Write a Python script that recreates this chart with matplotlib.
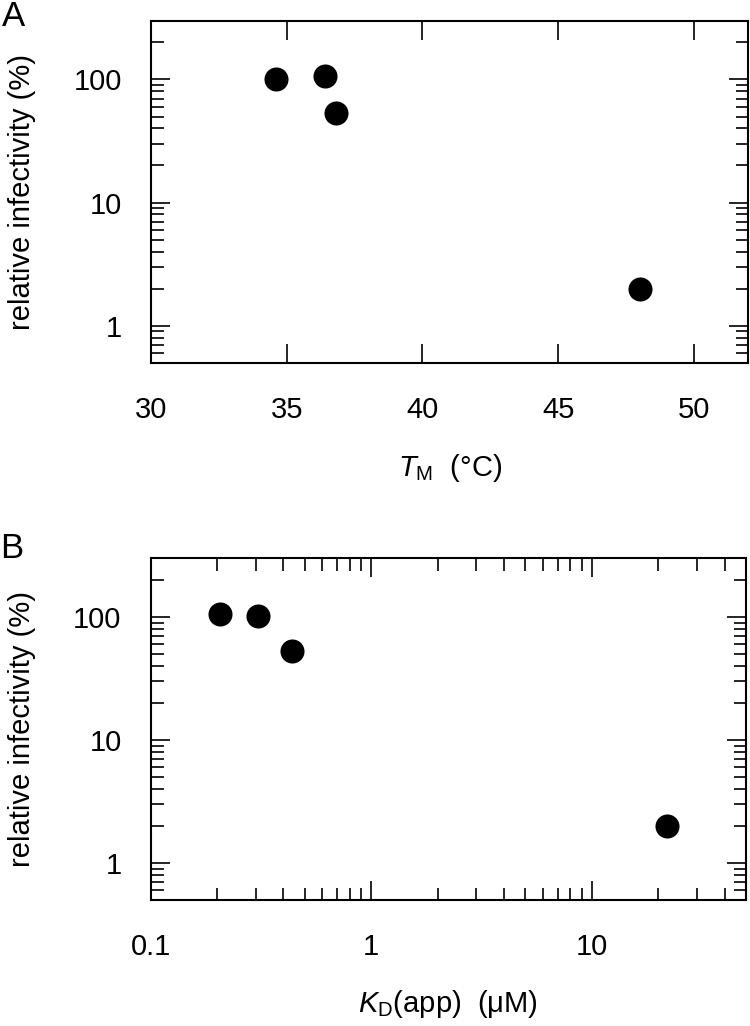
import matplotlib
matplotlib.use('Agg')
import matplotlib.pyplot as plt
from matplotlib.ticker import LogLocator, FixedLocator, NullFormatter, FuncFormatter

plt.rcParams['font.family'] = ['Liberation Sans', 'DejaVu Sans']
plt.rcParams['mathtext.fontset'] = 'custom'
plt.rcParams['mathtext.rm'] = 'Liberation Sans'
plt.rcParams['mathtext.it'] = 'Liberation Sans:italic'

# panel A: melting temperature vs relative infectivity
tm = [34.6, 36.4, 36.8, 48.0]
infect_a = [101, 106, 53, 2.0]

# panel B: apparent KD vs relative infectivity
kd = [0.207, 0.306, 0.436, 22.0]
infect_b = [106, 101, 53, 2.0]

tm_ticks = [30, 35, 40, 45, 50]
kd_ticks = [0.1, 1, 10]
inf_ticks = [1, 10, 100]

fig = plt.figure(figsize=(7.5, 10.26), dpi=100)
ax1 = fig.add_axes([0.2013, 0.6465, 0.7963, 0.3333])
ax2 = fig.add_axes([0.2009, 0.1228, 0.7937, 0.3331])

fs = 21
lbl = lambda v, p: ('%g' % v)

for ax in (ax1, ax2):
    for s in ax.spines.values():
        s.set_linewidth(1.5)
    ax.set_yscale('log')
    ax.set_ylim(0.5, 300)
    ax.yaxis.set_major_locator(FixedLocator(inf_ticks))
    ax.yaxis.set_major_formatter(FuncFormatter(lbl))
    ax.yaxis.set_minor_locator(LogLocator(base=10, subs=range(2, 10), numticks=20))
    ax.yaxis.set_minor_formatter(NullFormatter())
    ax.tick_params(which='both', direction='in', top=True, right=True, width=1.2)
    ax.tick_params(which='major', length=13.5, labelsize=fs)
    ax.tick_params(which='minor', length=9)
    ax.tick_params(axis='y', which='major', pad=21)
    ax.tick_params(axis='x', which='major', pad=24)
    ax.set_ylabel('relative infectivity (%)', fontsize=fs)
    ax.yaxis.set_label_coords(-0.193, 0.5)

ax1.scatter(tm, infect_a, s=300, color='black', zorder=3, linewidths=0)
ax1.set_xlim(30, 52)
ax1.xaxis.set_major_locator(FixedLocator(tm_ticks))
ax1.set_xlabel(r'$T_{\mathrm{M}}$  (°C)', fontsize=fs)
ax1.xaxis.set_label_coords(0.5, -0.261)

ax2.scatter(kd, infect_b, s=300, color='black', zorder=3, linewidths=0)
ax2.set_xscale('log')
ax2.set_xlim(0.1, 50)
ax2.xaxis.set_major_locator(FixedLocator(kd_ticks))
ax2.xaxis.set_major_formatter(FuncFormatter(lbl))
ax2.xaxis.set_minor_locator(LogLocator(base=10, subs=range(2, 10), numticks=20))
ax2.xaxis.set_minor_formatter(NullFormatter())
ax2.set_xlabel(r'$K_{\mathrm{D}}$(app)  (μM)', fontsize=fs)
ax2.xaxis.set_label_coords(0.5, -0.257)

fig.text(0.002, 1.0, 'A', fontsize=25, va='top', ha='left')
fig.text(0.0, 1 - 532 / 1026, 'B', fontsize=25, va='top', ha='left')

fig.savefig('out.png', dpi=100)
